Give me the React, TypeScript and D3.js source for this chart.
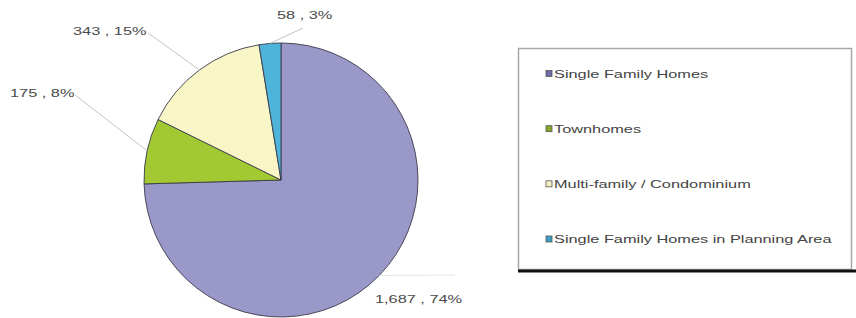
import React, { useEffect, useRef } from 'react'
import * as d3 from 'd3'

const categories = [
  'Single Family Homes',
  'Townhomes',
  'Multi-family / Condominium',
  'Single Family Homes in Planning Area',
]
const values = [1687, 175, 343, 58]
const percents = [74, 8, 15, 3]
const colors = ['#9a97c9', '#a2c832', '#f8f5c6', '#4fb4da']
const legendColors = ['#6f6aa8', '#88a82a', '#f4f0c0', '#3a9ec4']

const App = () => {
  const ref = useRef<SVGSVGElement>(null)

  useEffect(() => {
    const svg = d3.select(ref.current)
    svg.selectAll('*').remove()

    const cx = 281, cy = 180, r = 137
    const sx = 1.42
    const fmt = d3.format(',')

    const pie = d3.pie<number>().sort(null).value((d) => d)
    const arcs = pie(values)
    const arc = d3.arc<d3.PieArcDatum<number>>().innerRadius(0).outerRadius(r)
    const edge = d3.arc<d3.PieArcDatum<number>>().innerRadius(r).outerRadius(r)

    const g = svg.append('g').attr('transform', `translate(${cx},${cy})`)

    // leader lines: label anchor (absolute) -> slice edge
    const labelPos = [
      { x: 375, y: 299, lx: 455, ly: 275 },
      { x: 10, y: 93, lx: 75, ly: 95 },
      { x: 73, y: 31, lx: 148, ly: 33 },
      { x: 277, y: 15, lx: 303, ly: 28 },
    ]

    arcs.forEach((a, i) => {
      const [ex, ey] = edge.centroid(a)
      const p = labelPos[i]
      svg.append('polyline')
        .attr('points', `${p.lx},${p.ly} ${cx + ex},${cy + ey}`)
        .attr('fill', 'none')
        .attr('stroke', i === 0 ? '#e4e4e4' : '#c4c4c4')
        .attr('stroke-width', 1)
    })

    g.selectAll('path')
      .data(arcs)
      .enter()
      .append('path')
      .attr('d', arc)
      .attr('fill', (d, i) => colors[i])
      .attr('stroke', '#3a3a4a')
      .attr('stroke-width', 0.9)

    arcs.forEach((a, i) => {
      const p = labelPos[i]
      svg.append('text')
        .attr('transform', `translate(${p.x},${p.y}) scale(${sx},1)`)
        .attr('dy', '0.35em')
        .attr('font-family', 'Liberation Sans, Arial, sans-serif')
        .attr('font-size', 11.5)
        .attr('fill', '#4a4a4a')
        .text(`${fmt(values[i])} , ${percents[i]}%`)
    })

    // legend
    const lg = svg.append('g')
    lg.append('rect')
      .attr('x', 518.5).attr('y', 48.5)
      .attr('width', 333).attr('height', 221)
      .attr('fill', '#fff')
      .attr('stroke', '#a8a8a8')
      .attr('stroke-width', 1.5)
    lg.append('line')
      .attr('x1', 518).attr('x2', 856)
      .attr('y1', 271).attr('y2', 271)
      .attr('stroke', '#111')
      .attr('stroke-width', 3)

    const rowY = d3.scalePoint<string>().domain(categories).range([73.5, 239])

    categories.forEach((c, i) => {
      const y = rowY(c) as number
      lg.append('rect')
        .attr('x', 546).attr('y', y - 3)
        .attr('width', 6).attr('height', 6)
        .attr('fill', legendColors[i])
        .attr('stroke', '#555')
        .attr('stroke-width', 0.8)
      lg.append('text')
        .attr('transform', `translate(554,${y}) scale(${sx},1)`)
        .attr('dy', '0.35em')
        .attr('font-family', 'Liberation Sans, Arial, sans-serif')
        .attr('font-size', 11.5)
        .attr('fill', '#444')
        .text(c)
    })
  }, [])

  return (
    <svg
      ref={ref}
      width={856}
      height={318}
      style={{ position: 'absolute', left: 0, top: 0, background: '#fff' }}
    />
  )
}

export default App
